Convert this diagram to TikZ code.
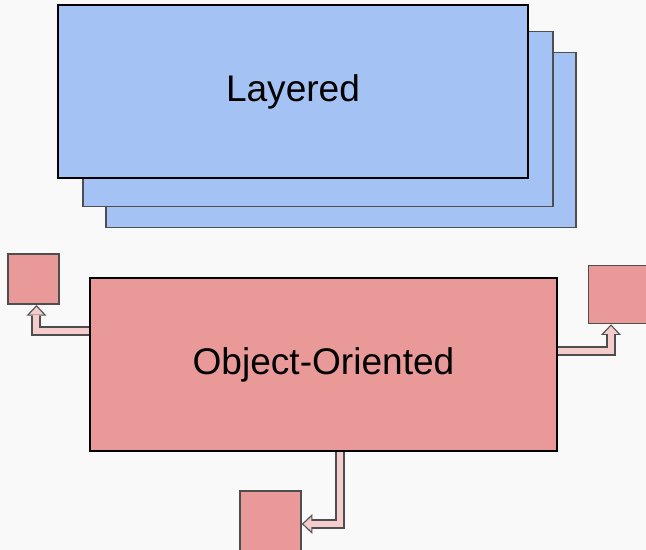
\documentclass[tikz,border=0pt]{standalone}
\usepackage{fontspec}
\setmainfont{Liberation Sans}
\usetikzlibrary{positioning, arrows.meta, backgrounds}
\definecolor{lyrblue}{RGB}{164,194,244}
\definecolor{oored}{RGB}{234,153,153}
\definecolor{oopink}{RGB}{244,204,204}
\definecolor{edgegray}{RGB}{78,78,78}
\definecolor{bggray}{RGB}{249,249,249}
\tikzset{
    layerfront/.style={rectangle, draw=black, fill=lyrblue, minimum width=9.4cm, minimum height=3.46cm, line width=0.9pt, font=\fontsize{21.1}{25}\selectfont},
    layerback/.style={rectangle, draw=edgegray, fill=lyrblue, minimum width=9.4cm, minimum height=3.5cm, line width=0.9pt},
    oomain/.style={rectangle, draw=black, fill=oored, minimum width=9.34cm, minimum height=3.46cm, line width=1.1pt, font=\fontsize{21.1}{25}\selectfont},
    objbox/.style={rectangle, draw=edgegray, fill=oored, minimum size=#1, line width=1pt},
    objbox/.default=1.2cm,
    % fat elbow arrows: grey outline first, pink body on top
    msgout/.style={draw=edgegray, line width=0.2cm, line join=miter, -{Triangle[length=0.21cm, width=0.4cm, line width=0pt]}},
    msgin/.style={draw=oopink, line width=0.12cm, line join=miter, shorten >=0.035cm, -{Triangle[length=0.155cm, width=0.29cm, line width=0pt]}}
}
\begin{document}
\begin{tikzpicture}
    \useasboundingbox (0,0) rectangle (12.92,11);
    \begin{pgfonlayer}{background}
        \fill[bggray] (0,0) rectangle (12.92,11);
    \end{pgfonlayer}
    \node[layerback] at (6.82, 8.2) (lyr3) {};
    \node[layerback] at (6.36, 8.62) (lyr2) {};
    \node[layerfront] at (5.86, 9.17) (lyr1) {Layered};
    \node[oomain] at (6.47, 3.71) (ooa) {Object-Oriented};
    \node[objbox=1.01cm] at (0.67, 5.42) (lbox) {};
    \node[objbox=1.16cm] at (12.35, 5.11) (rbox) {};
    \node[objbox=1.22cm] at (5.41, 0.57) (bbox) {};
    \begin{pgfonlayer}{background}
        \foreach \sty in {msgout, msgin} {
            \draw[\sty] ([yshift=0.66cm]ooa.west) -| ([xshift=0.06cm]lbox.south);
            \draw[\sty] ([yshift=0.26cm]ooa.east) -| ([xshift=-0.13cm]rbox.south);
            \draw[\sty] ([xshift=0.33cm]ooa.south) |- ([yshift=-0.05cm]bbox.east);
        }
    \end{pgfonlayer}
\end{tikzpicture}
\end{document}
